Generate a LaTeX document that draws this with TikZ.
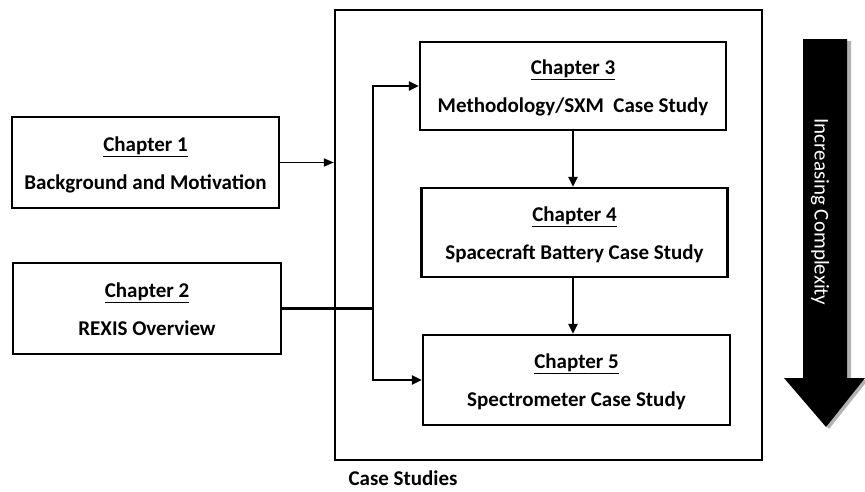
\documentclass[tikz,border=0pt]{standalone}
\usepackage{fontspec}
\setmainfont{Carlito}
\usetikzlibrary{arrows.meta}
\begin{document}
\begin{tikzpicture}[x=1pt,y=-1pt,
  chbox/.style={draw, line width=2.4pt, align=center, inner sep=0pt,
    font=\fontsize{21}{38}\selectfont\bfseries},
  link/.style={line width=2.3pt, -{Triangle[length=10pt,width=9pt]}},
  thinlink/.style={line width=1.6pt, -{Triangle[length=10pt,width=8pt]}},
  plain/.style={line width=2.3pt}]
\useasboundingbox (0,0) rectangle (865,491);
% outer container
\node[draw, line width=2.4pt, minimum width=427pt, minimum height=450pt, inner sep=0pt] (outer) at (548.5,235) {};
\node[anchor=base west, font=\fontsize{21}{24}\selectfont\bfseries] (cs) at (345,485) {Case Studies};
% chapter boxes
\node[chbox, minimum width=267pt, minimum height=91pt] (ch1) at (145.5,162.5)
  {\strut\underline{Chapter 1}\\\strut Background and Motivation};
\node[chbox, minimum width=268pt, minimum height=91pt] (ch2) at (147,308.5)
  {\strut\underline{Chapter 2}\\\strut REXIS Overview};
\node[chbox, minimum width=306pt, minimum height=88pt] (ch3) at (573,86)
  {\strut\underline{Chapter 3}\\\strut Methodology/SXM\ \ Case Study};
\node[chbox, minimum width=306pt, minimum height=89pt] (ch4) at (574.5,232.5)
  {\strut\underline{Chapter 4}\\\strut Spacecraft Battery Case Study};
\node[chbox, minimum width=307pt, minimum height=90pt] (ch5) at (576.5,380)
  {\strut\underline{Chapter 5}\\\strut Spectrometer Case Study};
% connectors
\draw[thinlink] (ch1.east) -- (ch1.east -| outer.west);
\coordinate (j) at (373,308.5);
\draw[plain] (ch2.east) -- (j);
\draw[link] (j) |- (ch3.west);
\draw[link] (j) |- (ch5.west);
\draw[link] (ch3.south) -- (ch3.south |- ch4.north);
\draw[link] (ch3.south |- ch4.south) -- (ch3.south |- ch5.north);
% big arrow with shadow
\fill[black!30] (806,41) -- (851,41) -- (851,380) -- (868,380) -- (829,429) -- (786,380) -- (806,380) -- cycle;
\fill[black] (803,39) -- (847,39) -- (847,378) -- (865,378) -- (826,427) -- (784,378) -- (803,378) -- cycle;
\node[rotate=-90, text=white, font=\fontsize{21}{24}\selectfont] (ic) at (820,212) {Increasing Complexity};
\end{tikzpicture}
\end{document}
